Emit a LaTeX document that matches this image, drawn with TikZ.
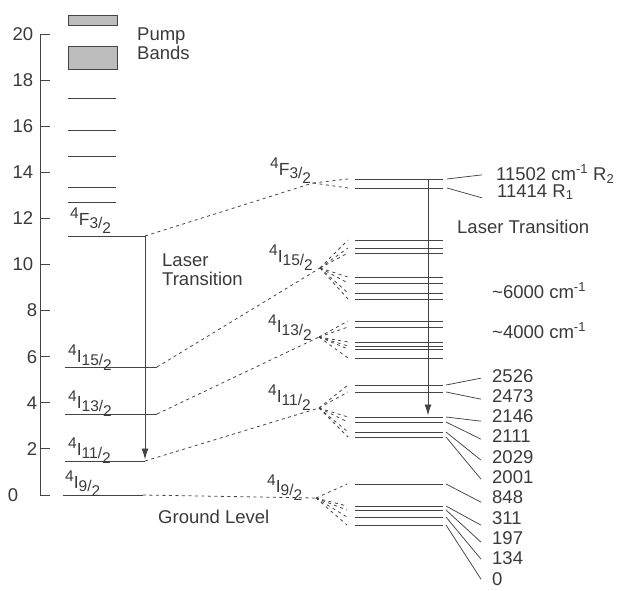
\documentclass[tikz,border=0pt]{standalone}
\usepackage{fontspec}
\setmainfont{Liberation Sans}
\usetikzlibrary{arrows.meta,calc}
\definecolor{ink}{HTML}{3A3A3A}
\definecolor{lineink}{HTML}{444444}
\definecolor{bandfill}{HTML}{BDBDBD}
\newcommand{\trm}[3]{{\fontsize{17.5}{17.5}\selectfont\raisebox{7pt}{\fontsize{15.5}{15.5}\selectfont #1}#2\raisebox{-3pt}{\fontsize{15.5}{15.5}\selectfont #3/}\raisebox{-8pt}{\fontsize{15.5}{15.5}\selectfont 2}}}
\begin{document}
\begin{tikzpicture}[x=1pt,y=-1pt,
  lvl/.style={draw=lineink,line width=0.95pt},
  dsh/.style={draw=lineink,line width=0.8pt,dash pattern=on 3pt off 3.5pt},
  lead/.style={draw=lineink,line width=0.75pt},
  arr/.style={draw=lineink,line width=0.85pt,-{Latex[length=11pt,width=7pt]},shorten >=1.5pt},
  txt/.style={text=ink,inner sep=0pt,font=\fontsize{18.5}{19}\selectfont},
  term/.style={text=ink,inner sep=0pt,anchor=base west},
  bandbox/.style={draw=lineink,fill=bandfill,line width=0.6pt}]
\useasboundingbox (0,0) rectangle (624,590);

% axis
\coordinate (axtop) at (40,34);
\coordinate (axbot) at (40,495);
\draw[lvl] (axtop) -- (axbot);
\foreach \v in {0,2,...,20} \draw[lvl] (40,{495-23.05*\v}) -- ++(10,0);
\foreach \v/\xx in {20/23,18/23,16/23,14/23,12/23,10/23,8/32,6/32,4/32,2/32,0/13}
  \node[txt] (tick\v) at (\xx,{495-23.05*\v}) {\v};

% pump bands and upper levels
\draw[bandbox] (68,15) rectangle (117,25);
\draw[bandbox] (68,46) rectangle (117,69);
\node[txt,anchor=west,align=left] (pump) at (137,43.5) {Pump\\Bands};
\foreach \yy in {98,130,156,187,202} \draw[lvl] (68,\yy) -- (116,\yy);

% left manifolds
\coordinate (F3L) at (68,236);  \coordinate (F3R) at (145,236);
\coordinate (I15L) at (65,367); \coordinate (I15R) at (157,367);
\coordinate (I13L) at (65,414); \coordinate (I13R) at (157,414);
\coordinate (I11L) at (65,461); \coordinate (I11R) at (145,461);
\coordinate (I9L) at (63,495);  \coordinate (I9R) at (143,495);
\foreach \m in {F3,I15,I13,I11,I9} \draw[lvl] (\m L) -- (\m R);

\node[term] (lF3) at (70,225) {\trm{4}{F}{3}};
\node[term] (lI15) at (68,362) {\trm{4}{I}{15}};
\node[term] (lI13) at (68,408) {\trm{4}{I}{13}};
\node[term] (lI11) at (68,455) {\trm{4}{I}{11}};
\node[term] (lI9) at (65,488) {\trm{4}{I}{9}};

\draw[arr] (F3R) -- (I11R);
\node[txt,anchor=west,align=left] (lasL) at (162,269.5) {Laser\\Transition};
\node[txt,anchor=west] (ground) at (158,517) {Ground Level};

% middle labels and convergence points
\node[term] (mF3) at (270,175) {\trm{4}{F}{3}};
\node[term] (mI15) at (269,262) {\trm{4}{I}{15}};
\node[term] (mI13) at (268,332) {\trm{4}{I}{13}};
\node[term] (mI11) at (268,402) {\trm{4}{I}{11}};
\node[term] (mI9) at (267,492) {\trm{4}{I}{9}};
\coordinate (cF3) at (313,183);
\coordinate (cI15) at (320,268);
\coordinate (cI13) at (319,337);
\coordinate (cI11) at (319,408);
\coordinate (cI9) at (316,498);
\draw[dsh] (F3R) -- (cF3);
\draw[dsh] (I15R) -- (cI15);
\draw[dsh] (I13R) -- (cI13);
\draw[dsh] (I11R) -- (cI11);
\draw[dsh] (I9R) -- (cI9);

% right Stark levels
\foreach \g/\n/\yy in {a/1/179,a/2/188,
  b/1/240,b/2/248,b/3/253,b/4/277,b/5/283,b/6/293,b/7/299,
  c/1/321,c/2/327,c/3/342,c/4/346,c/5/349,c/6/358,
  d/1/385,d/2/392,d/3/417,d/4/422,d/5/432,d/6/437,
  e/1/484,e/2/506,e/3/510,e/4/517,e/5/525}{
  \coordinate (\g\n-L) at (355,\yy);
  \coordinate (\g\n-R) at (443,\yy);
  \draw[lvl] (\g\n-L) -- (\g\n-R);
}
\foreach \n in {1,2} \draw[dsh] (cF3) -- ([xshift=-7pt]a\n-L);
\foreach \n in {1,...,7} \draw[dsh] (cI15) -- ([xshift=-7pt]b\n-L);
\foreach \n in {1,...,6} \draw[dsh] (cI13) -- ([xshift=-7pt]c\n-L);
\foreach \n in {1,...,6} \draw[dsh] (cI11) -- ([xshift=-7pt]d\n-L);
\foreach \n in {1,...,5} \draw[dsh] (cI9) -- ([xshift=-8pt]e\n-L);

\coordinate (arT) at (428,179);
\coordinate (arB) at (428,417);
\draw[arr] (arT) -- (arB);

% right labels
\node[txt,anchor=base west] (nR2) at (496,180) {11502 cm\textsuperscript{-1} R\textsubscript{2}};
\node[txt,anchor=base west] (nR1) at (497,197) {11414 R\textsubscript{1}};
\node[txt,anchor=base west] (lasR) at (457,233) {Laser Transition};
\node[txt,anchor=base west] (n6000) at (492,298) {\textasciitilde 6000 cm\textsuperscript{-1}};
\node[txt,anchor=base west] (n4000) at (492,338) {\textasciitilde 4000 cm\textsuperscript{-1}};
\draw[lead] ([xshift=4pt]a1-R) -- ([xshift=-14pt,yshift=2.5pt]nR2.mid west);
\draw[lead] ([xshift=4pt]a2-R) -- ([xshift=-15pt,yshift=-3.5pt]nR1.mid west);

\foreach \nm/\bb in {2526/382,2473/402.3,2146/422.6,2111/442.9,2029/463.2,2001/483.5,848/503.8,311/524.1,197/544.4,134/564.7,0/585}
  \node[txt,anchor=base west] (n\nm) at (492,\bb) {\nm};
\foreach \s/\t/\dy in {d1/2526/1.2,d2/2473/0.5,d3/2146/-1.2,d4/2111/1.1,d5/2029/0.4,d6/2001/1.7,
  e1/848/-1,e2/311/-3.7,e3/197/-0.4,e4/134/2.9,e5/0/3.2}
  \draw[lead] ([xshift=3pt]\s-R) -- ([xshift=-11pt,yshift=\dy pt]n\t.mid west);
\end{tikzpicture}
\end{document}
